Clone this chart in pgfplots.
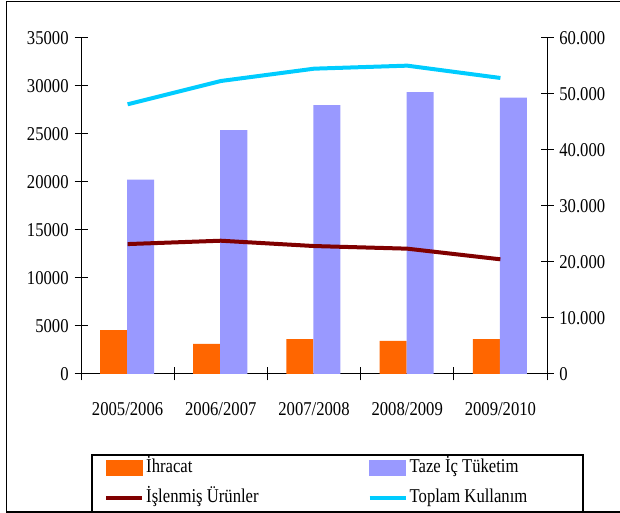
\documentclass[border=0pt]{standalone}
\usepackage{fontspec}
\setmainfont{Liberation Serif}
\usepackage{graphicx}
\usepackage{pgfplots}
\pgfplotsset{compat=1.18}
\definecolor{cOr}{HTML}{FF6600}
\definecolor{cBl}{HTML}{9999FF}
\definecolor{cDr}{HTML}{800000}
\definecolor{cCy}{HTML}{00CCFF}
\newcommand{\T}[1]{\scalebox{0.98}[1.15]{#1}}
\pgfplotsset{
  linelegend/.style={legend image code/.code={\draw[##1] (0pt,0pt) -- (36pt,0pt);}},
  barlegend/.style={legend image code/.code={\fill[##1] (0pt,-7.5pt) rectangle (36pt,7.5pt);}},
}
\begin{document}
\fontsize{17}{20}\selectfont
\begin{tikzpicture}[x=1pt,y=1pt]
\useasboundingbox (0,0) rectangle (620,513);
\pgfplotsset{every axis/.append style={
  scale only axis, width=466pt, height=336pt,
  at={(81pt,139pt)}, anchor=south west,
  xmin=0, xmax=5, ymin=0,
  font=\fontsize{17}{20}\selectfont,
  /pgf/number format/assume math mode=true,
  tick align=center, major tick length=13pt,
  axis line style={line width=1pt,-},
  every tick/.style={black, line width=1pt},
  scaled y ticks=false,
  yticklabel={\T{\pgfmathprintnumber{\tick}}},
}}
\begin{axis}[
  ymax=35000,
  axis y line*=left, axis x line*=bottom,
  ytick={0,5000,...,35000},
  yticklabel style={/pgf/number format/1000 sep={}},
  xtick={0,1,2,3,4,5},
  xticklabels={,,,,,},
  extra x ticks={0.5,1.5,2.5,3.5,4.5},
  extra x tick labels={\T{2005/2006},\T{2006/2007},\T{2007/2008},\T{2008/2009},\T{2009/2010}},
  extra x tick style={major tick length=0pt, tick label style={yshift=-23pt}},
]
\addplot[ybar, bar width=0.29, bar shift=-0.151, fill=cOr, draw=none]
  coordinates {(0.5,4580) (1.5,3130) (2.5,3620) (3.5,3440) (4.5,3620)};
\addplot[ybar, bar width=0.29, bar shift=0.139, fill=cBl, draw=none]
  coordinates {(0.5,20250) (1.5,25400) (2.5,28000) (3.5,29350) (4.5,28800)};
\end{axis}
\begin{axis}[
  ymax=60000,
  axis y line*=right, axis x line=none,
  ytick={0,10000,...,60000},
  yticklabel style={/pgf/number format/1000 sep={.}},
  legend columns=2,
  legend cell align=left,
  legend style={at={(0.0494,-0.253)}, anchor=north west, draw=none, fill=none,
    inner sep=0pt, row sep=13pt,
    nodes={inner xsep=2pt, inner ysep=0pt, text height=13pt, text depth=4pt},
    /tikz/every even column/.append style={column sep=107pt}},
]
\addlegendimage{barlegend, cOr}
\addlegendentry{\T{İhracat}}
\addlegendimage{barlegend, cBl}
\addlegendentry{\T{Taze İç Tüketim}}
\addplot[cDr, line width=4pt, line join=round, linelegend]
  coordinates {(0.5,23200) (1.5,23800) (2.5,22850) (3.5,22380) (4.5,20480)};
\addlegendentry{\T{İşlenmiş Ürünler}}
\addplot[cCy, line width=4pt, line join=round, linelegend]
  coordinates {(0.5,48160) (1.5,52320) (2.5,54520) (3.5,55060) (4.5,52860)};
\addlegendentry{\T{Toplam Kullanım}}
\end{axis}
\draw[line width=1.8pt] (620,511.5) -- (6.5,511.5) -- (6.5,1) -- (620,1);
\draw[line width=1.2pt] (92,1) rectangle (583,58);
\end{tikzpicture}
\end{document}
